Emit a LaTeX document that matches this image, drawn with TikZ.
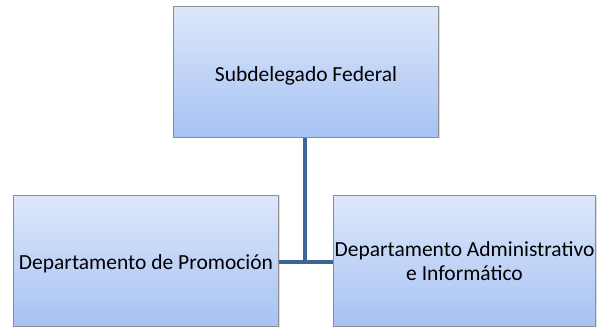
\documentclass[tikz,border=0pt]{standalone}
\usepackage{fontspec}
\setmainfont{Carlito}
\usetikzlibrary{shadows}
\definecolor{topc}{HTML}{DDE7FB}
\definecolor{botc}{HTML}{A6C2F3}
\definecolor{edgec}{HTML}{8E8E8E}
\definecolor{linec}{HTML}{3D6597}
\tikzset{
  x=1pt,y=-1pt,
  orgbox/.style={draw=edgec, line width=1pt, top color=topc, bottom color=botc,
    minimum width=#1, minimum height=131pt, inner sep=0pt, align=center, anchor=north west,
    font=\fontsize{21.5}{24}\selectfont, drop shadow={shadow xshift=1pt,shadow yshift=-1pt,opacity=0.25}},
  conn/.style={draw=linec, line width=4.5pt}
}
\begin{document}
\begin{tikzpicture}
\useasboundingbox (0,0) rectangle (598,328);
\node[orgbox=265pt, text height=22pt, text depth=2pt] (top) at (173,6) {Subdelegado Federal};
\node[orgbox=265pt, text height=20pt, text depth=3pt] (left) at (13,195) {Departamento de Promoción};
\node[orgbox=262pt, text height=43pt, text depth=4pt] (right) at (333,195) {Departamento Administrativo\\e Informático};
\coordinate (j) at (305,262);
\draw[conn] (top.south -| j) -- (j);
\draw[conn] (left.east |- j) -- (right.west |- j);
\end{tikzpicture}
\end{document}
